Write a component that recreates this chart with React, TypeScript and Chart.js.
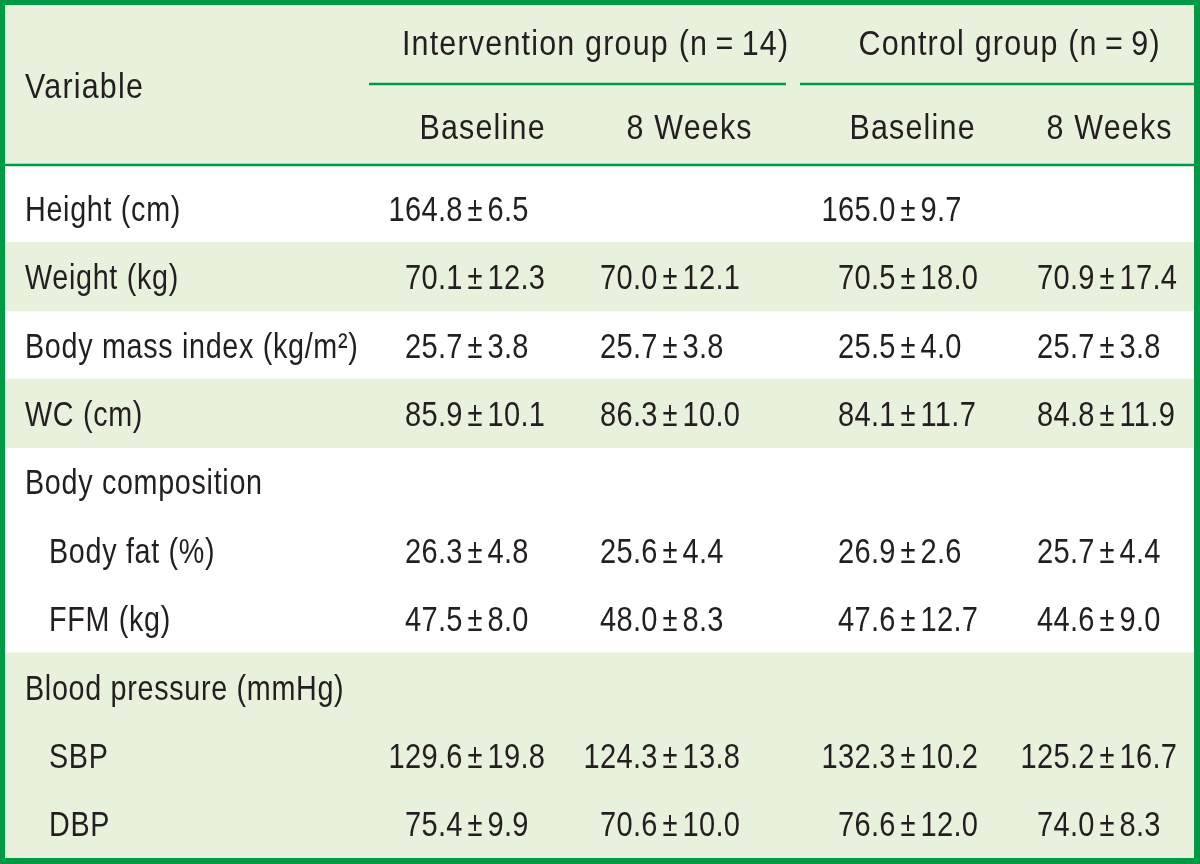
import React, { useEffect, useRef } from 'react';
import { Chart, registerables } from 'chart.js';

Chart.register(...registerables);

// ---------- data ----------
const variableHeader = 'Variable';
const groupHeaders = ['Intervention group (n\u2009=\u200914)', 'Control group (n\u2009=\u20099)'];
const timeHeaders = ['Baseline', '8 Weeks', 'Baseline', '8 Weeks'];

const variables = [
  'Height (cm)',
  'Weight (kg)',
  'Body mass index (kg/m\u00B2)',
  'WC (cm)',
  'Body composition',
  'Body fat (%)',
  'FFM (kg)',
  'Blood pressure (mmHg)',
  'SBP',
  'DBP',
];
const indented = [false, false, false, false, false, true, true, false, true, true];
const shaded = [false, true, false, true, false, false, false, true, true, true];

const intBaseMean = [164.8, 70.1, 25.7, 85.9, null, 26.3, 47.5, null, 129.6, 75.4];
const intBaseSD = [6.5, 12.3, 3.8, 10.1, null, 4.8, 8.0, null, 19.8, 9.9];
const int8Mean = [null, 70.0, 25.7, 86.3, null, 25.6, 48.0, null, 124.3, 70.6];
const int8SD = [null, 12.1, 3.8, 10.0, null, 4.4, 8.3, null, 13.8, 10.0];
const ctrlBaseMean = [165.0, 70.5, 25.5, 84.1, null, 26.9, 47.6, null, 132.3, 76.6];
const ctrlBaseSD = [9.7, 18.0, 4.0, 11.7, null, 2.6, 12.7, null, 10.2, 12.0];
const ctrl8Mean = [null, 70.9, 25.7, 84.8, null, 25.7, 44.6, null, 125.2, 74.0];
const ctrl8SD = [null, 17.4, 3.8, 11.9, null, 4.4, 9.0, null, 16.7, 8.3];

// ---------- styles / layout ----------
const W = 1200;
const H = 864;
const GREEN = '#009a47';
const LIGHT = '#e8f1dc';
const INK = '#231f20';
const FONT = "35px 'Liberation Sans', Arial, sans-serif";
const HEADER_SX = 0.87;
const HEADER_SPACING = 1.2;
const LABEL_SX = 0.82;
const LABEL_SPACING = 0.7;
const NUMBER_SX = 0.83;
const NUMBER_SPACING = 0.3;
const PM_SX = 0.78;

const BORDER_L = 5;
const BORDER_T = 5;
const BORDER_R = 6;
const BORDER_B = 6;
const HEADER_BOTTOM = 165;
const ROWS_TOP = 174;

const LABEL_X = 25;
const INDENT_X = 49;
const GROUP_CENTERS = [595, 1009];
const GROUP_LINES = [
  [369, 786],
  [800, W - BORDER_R],
];
const GROUP_LINE_Y = 84;
const GROUP_BASE_Y = 55;
const VARIABLE_BASE_Y = 98;
const TIME_CENTERS = [482, 689, 912, 1109];
const TIME_BASE_Y = 139;
const PM_CENTERS = [475, 670, 908, 1107];
const PM_GAP = 12.5;
const CAP_HALF = 12.5;

const columns = [
  [intBaseMean, intBaseSD],
  [int8Mean, int8SD],
  [ctrlBaseMean, ctrlBaseSD],
  [ctrl8Mean, ctrl8SD],
];

function setSpacing(ctx: any, px: number) {
  try {
    ctx.letterSpacing = `${px}px`;
  } catch (e) {
    /* ignore */
  }
}

function drawText(
  ctx: any,
  text: string,
  x: number,
  y: number,
  align: string,
  sx: number,
  spacing: number,
) {
  setSpacing(ctx, 0);
  const base = ctx.measureText(text).width * sx;
  const w = base + spacing * Math.max(0, text.length - 1);
  const left = align === 'left' ? x : align === 'right' ? x - w : x - w / 2;
  ctx.save();
  ctx.translate(left, y);
  ctx.scale(sx, 1);
  setSpacing(ctx, spacing / sx);
  ctx.textAlign = 'left';
  ctx.fillText(text, 0, 0);
  ctx.restore();
}

const tablePlugin = {
  id: 'tablePlugin',
  beforeDraw(chart: any) {
    const ctx = chart.ctx;
    ctx.save();
    ctx.fillStyle = '#ffffff';
    ctx.fillRect(0, 0, W, H);
    ctx.fillStyle = LIGHT;
    ctx.fillRect(0, 0, W, HEADER_BOTTOM);
    ctx.restore();
  },
  afterDraw(chart: any) {
    const ctx = chart.ctx;
    const y = chart.scales.y;
    ctx.save();
    ctx.fillStyle = INK;
    ctx.font = FONT;
    ctx.textBaseline = 'alphabetic';

    // header text
    drawText(ctx, variableHeader, LABEL_X, VARIABLE_BASE_Y, 'left', HEADER_SX, HEADER_SPACING);
    groupHeaders.forEach((t, i) =>
      drawText(ctx, t, GROUP_CENTERS[i], GROUP_BASE_Y, 'center', HEADER_SX, HEADER_SPACING),
    );
    timeHeaders.forEach((t, i) =>
      drawText(ctx, t, TIME_CENTERS[i], TIME_BASE_Y, 'center', HEADER_SX, HEADER_SPACING),
    );

    // header rules
    ctx.strokeStyle = GREEN;
    ctx.lineWidth = 2.5;
    GROUP_LINES.forEach(([a, b]) => {
      ctx.beginPath();
      ctx.moveTo(a, GROUP_LINE_Y);
      ctx.lineTo(b, GROUP_LINE_Y);
      ctx.stroke();
    });
    ctx.beginPath();
    ctx.moveTo(0, HEADER_BOTTOM);
    ctx.lineTo(W, HEADER_BOTTOM);
    ctx.stroke();

    // row labels and values
    variables.forEach((label, i) => {
      const cy = y.getPixelForValue(i);
      const base = cy + CAP_HALF;
      drawText(ctx, label, indented[i] ? INDENT_X : LABEL_X, base, 'left', LABEL_SX, LABEL_SPACING);
      columns.forEach(([means, sds], c) => {
        const m = means[i];
        const s = sds[i];
        if (m === null || m === undefined || s === null || s === undefined) return;
        const pm = PM_CENTERS[c];
        drawText(ctx, (m as number).toFixed(1), pm - PM_GAP, base, 'right', NUMBER_SX, NUMBER_SPACING);
        drawText(ctx, '\u00B1', pm, base, 'center', PM_SX, 0);
        drawText(ctx, (s as number).toFixed(1), pm + PM_GAP, base, 'left', NUMBER_SX, NUMBER_SPACING);
      });
    });

    // outer frame
    ctx.fillStyle = GREEN;
    ctx.fillRect(0, 0, W, BORDER_T);
    ctx.fillRect(0, H - BORDER_B, W, BORDER_B);
    ctx.fillRect(0, 0, BORDER_L, H);
    ctx.fillRect(W - BORDER_R, 0, BORDER_R, H);
    ctx.restore();
  },
};

export default function App() {
  const canvasRef = useRef<HTMLCanvasElement | null>(null);

  useEffect(() => {
    document.body.style.margin = '0';
    const canvas = canvasRef.current;
    if (!canvas) return;
    const chart = new Chart(canvas, {
      type: 'bar',
      data: {
        labels: variables,
        datasets: [
          {
            label: 'shading',
            data: shaded.map((s) => (s ? 1 : null)),
            backgroundColor: LIGHT,
            borderWidth: 0,
            barPercentage: 1,
            categoryPercentage: 1,
          },
        ],
      },
      options: {
        indexAxis: 'y',
        responsive: false,
        animation: false,
        events: [],
        layout: {
          padding: { left: BORDER_L, right: BORDER_R, top: ROWS_TOP, bottom: BORDER_B },
        },
        scales: {
          x: { type: 'linear', min: 0, max: 1, display: false },
          y: { type: 'category', display: false, offset: true },
        },
        plugins: {
          legend: { display: false },
          tooltip: { enabled: false },
          title: { display: false },
        },
      },
      plugins: [tablePlugin],
    });
    return () => chart.destroy();
  }, []);

  return (
    <div style={{ width: W, height: H, margin: 0, padding: 0 }}>
      <canvas ref={canvasRef} width={W} height={H} style={{ display: 'block', width: W, height: H }} />
    </div>
  );
}
